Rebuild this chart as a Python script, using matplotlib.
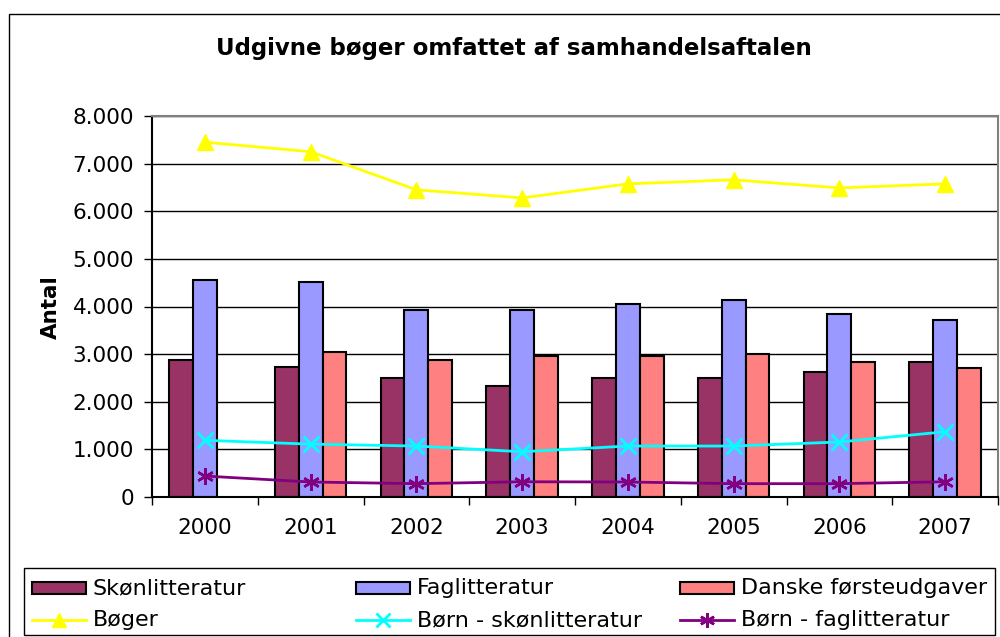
import numpy as np
import matplotlib
matplotlib.use("Agg")
import matplotlib.pyplot as plt
from matplotlib.patches import Rectangle
from matplotlib.lines import Line2D
from matplotlib.ticker import FuncFormatter

years = ["2000", "2001", "2002", "2003", "2004", "2005", "2006", "2007"]
skoen = [2880, 2720, 2490, 2330, 2490, 2490, 2620, 2830]
fag = [4560, 4510, 3920, 3920, 4050, 4140, 3840, 3720]
danske = [np.nan, 3040, 2880, 2960, 2960, 3000, 2830, 2710]
boeger = [7450, 7250, 6450, 6280, 6575, 6660, 6490, 6575]
boern_skoen = [1190, 1110, 1070, 950, 1070, 1070, 1155, 1370]
boern_fag = [440, 315, 280, 320, 315, 280, 280, 320]
yticks = [0, 1000, 2000, 3000, 4000, 5000, 6000, 7000, 8000]

title = "Udgivne bøger omfattet af samhandelsaftalen"
ylabel = "Antal"
labels = ["Skønlitteratur", "Faglitteratur", "Danske førsteudgaver",
          "Bøger", "Børn - skønlitteratur", "Børn - faglitteratur"]

c_skoen, c_fag, c_dansk = "#993366", "#9999FF", "#FF8080"
c_boeg, c_bs, c_bf = "#FFFF00", "#00FFFF", "#800080"

plt.rcParams['font.family'] = ['DejaVu Sans']

W, H = 1000, 637
fig = plt.figure(figsize=(W / 100, H / 100), dpi=100)


def fx(px):
    return px / W


def fy(py):
    return 1 - py / H


# outer chart border
fig.patches.append(Rectangle((fx(9), fy(660)), fx(1010) - fx(9), fy(14) - fy(660),
                             transform=fig.transFigure, fill=False,
                             edgecolor="black", linewidth=1.0))

ax = fig.add_axes([fx(152), fy(497), fx(998) - fx(152), fy(116) - fy(497)])
x = np.arange(len(years))
w = 0.225
ax.bar(x - w, skoen, w, color=c_skoen, edgecolor="black", linewidth=1.5, zorder=2)
ax.bar(x, fag, w, color=c_fag, edgecolor="black", linewidth=1.5, zorder=2)
ax.bar(x + w, danske, w, color=c_dansk, edgecolor="black", linewidth=1.5, zorder=2)

line_styles = [
    dict(color=c_boeg, marker="^", markersize=11, linewidth=2),
    dict(color=c_bs, marker="x", markersize=11, markeredgewidth=2, linewidth=2),
    dict(color=c_bf, marker=(6, 2, 0), markersize=12, markeredgewidth=1.8, linewidth=2),
]
for series, st in zip([boeger, boern_skoen, boern_fag], line_styles):
    ax.plot(x, series, zorder=3, **st)

ax.set_xlim(-0.5, len(years) - 0.5)
ax.set_ylim(0, 8000)
ax.set_yticks(yticks)
ax.yaxis.set_major_formatter(FuncFormatter(lambda v, p: f"{int(v):,}".replace(",", ".")))
ax.yaxis.grid(True, color="black", linewidth=1.0, zorder=0)
ax.set_axisbelow(True)
ax.set_xticks(x)
ax.set_xticklabels(years)
ax.set_xticks(np.arange(-0.5, len(years), 1), minor=True)
ax.tick_params(axis="x", which="major", length=0, pad=15, labelsize=15.5)
ax.tick_params(axis="x", which="minor", length=6, width=1, direction="out")
ax.tick_params(axis="y", length=6, width=1, labelsize=15.5, pad=7)
for s in ["top", "right"]:
    ax.spines[s].set_color("#808080")
    ax.spines[s].set_linewidth(1.5)
for s in ["left", "bottom"]:
    ax.spines[s].set_color("black")
    ax.spines[s].set_linewidth(1.5)

fig.text(fx(51), fy(307), ylabel, rotation=90, fontsize=15.5, fontweight="bold",
         ha="center", va="center")
fig.text(fx(514), fy(55), title, fontsize=16.5, fontweight="bold", ha="center", va="baseline")

# legend (drawn manually to match column placement)
fig.patches.append(Rectangle((fx(24), fy(635)), fx(995) - fx(24), fy(568) - fy(635),
                             transform=fig.transFigure, fill=True, facecolor="white",
                             edgecolor="black", linewidth=1.0, zorder=5))
col_x = [32, 356, 680]
row_y = [588, 620]
bar_colors = [c_skoen, c_fag, c_dansk]
for i in range(3):
    x0 = col_x[i]
    fig.patches.append(Rectangle((fx(x0), fy(594)), fx(x0 + 54) - fx(x0), fy(582) - fy(594),
                                 transform=fig.transFigure, facecolor=bar_colors[i],
                                 edgecolor="black", linewidth=1.5, zorder=6))
    fig.text(fx(x0 + 61), fy(row_y[0]), labels[i], fontsize=16, ha="left", va="center",
             zorder=6)
    st = dict(line_styles[i])
    st["markersize"] = st["markersize"] * 0.9
    fig.lines.append(Line2D([fx(x0), fx(x0 + 54)], [fy(row_y[1]), fy(row_y[1])],
                            transform=fig.transFigure, zorder=6, markevery=[], **st))
    fig.lines.append(Line2D([fx(x0 + 27)], [fy(row_y[1])], transform=fig.transFigure,
                            zorder=7, linestyle="none",
                            **{k: v for k, v in st.items() if k != "linewidth"}))
    fig.text(fx(x0 + 61), fy(row_y[1]), labels[i + 3], fontsize=16, ha="left", va="center",
             zorder=6)

fig.savefig("out.png", dpi=100)
